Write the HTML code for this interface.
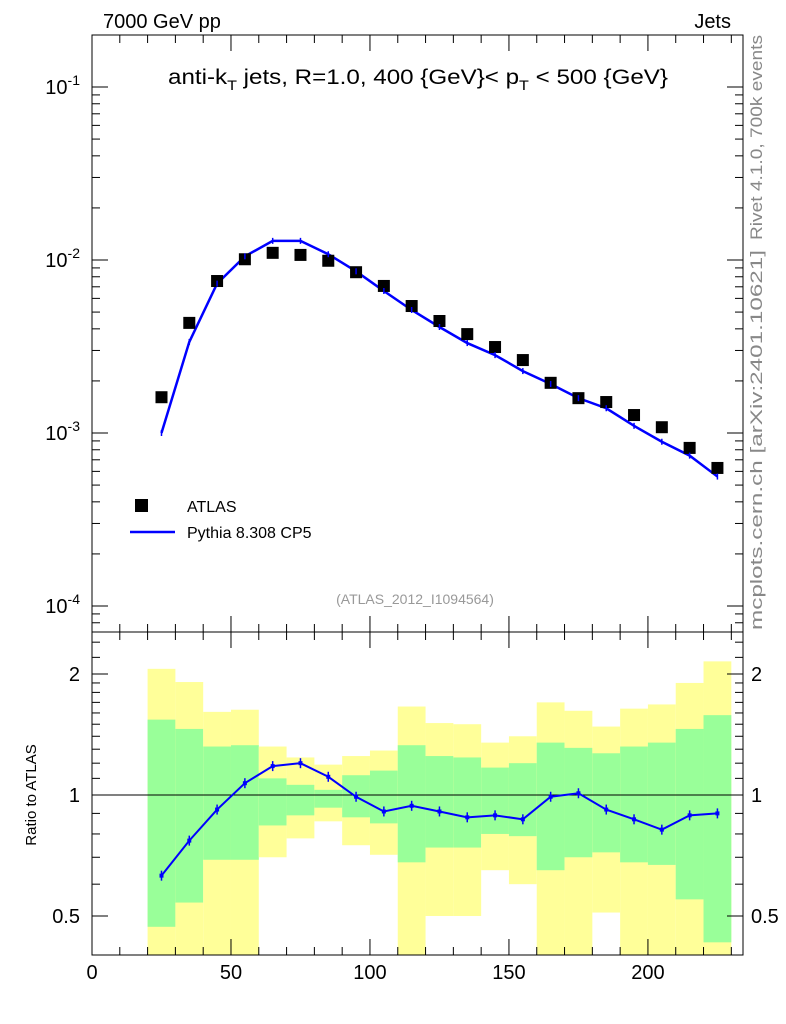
<!DOCTYPE html>
<html><head><meta charset="utf-8"><style>
body{margin:0;background:#fff;}
svg{display:block;font-family:"Liberation Sans",Arial,sans-serif;}
</style></head><body>
<svg id="c" width="786" height="1024" viewBox="0 0 786 1024" xmlns="http://www.w3.org/2000/svg">
<text x="103" y="28" font-size="20">7000 GeV pp</text>
<text x="731" y="28" font-size="20" text-anchor="end">Jets</text>
<text x="168" y="84" font-size="21" textLength="500" lengthAdjust="spacingAndGlyphs">anti-k<tspan font-size="14" dy="6">T</tspan><tspan dy="-6"> jets, R=1.0, 400 {GeV}&lt; p</tspan><tspan font-size="14" dy="6">T</tspan><tspan dy="-6"> &lt; 500 {GeV}</tspan></text>
<text x="415" y="604" font-size="14" fill="#999" text-anchor="middle">(ATLAS_2012_I1094564)</text>
<text transform="translate(762,240) rotate(-90)" font-size="17" fill="#888" textLength="205" lengthAdjust="spacingAndGlyphs">Rivet 4.1.0,  700k events</text>
<text transform="translate(762,630) rotate(-90)" font-size="17" fill="#888" textLength="380" lengthAdjust="spacingAndGlyphs">mcplots.cern.ch [arXiv:2401.10621]</text>
<text transform="translate(36,795) rotate(-90)" font-size="15" text-anchor="middle">Ratio to ATLAS</text>
<g id="bands"></g><g id="main"></g><g id="axes"></g>
<rect x="135" y="499" width="13" height="13" fill="#000"/>
<text x="187" y="512" font-size="16">ATLAS</text>
<line x1="130" y1="532" x2="175" y2="532" stroke="#00f" stroke-width="2.5"/>
<text x="187" y="538" font-size="16">Pythia 8.308 CP5</text>
</svg>
<script>
const xCenters=[25,35,45,55,65,75,85,95,105,115,125,135,145,155,165,175,185,195,205,215,225];
const atlasVals=[1.61e-3,4.33e-3,7.56e-3,1.01e-2,1.10e-2,1.07e-2,0.99e-2,8.5e-3,7.08e-3,5.42e-3,4.44e-3,3.73e-3,3.14e-3,2.64e-3,1.95e-3,1.59e-3,1.51e-3,1.27e-3,1.08e-3,8.2e-4,6.28e-4];
const pythiaVals=[1.0e-3,3.36e-3,7.3e-3,1.05e-2,1.29e-2,1.29e-2,1.08e-2,8.6e-3,6.62e-3,5.14e-3,4.10e-3,3.31e-3,2.82e-3,2.28e-3,1.92e-3,1.59e-3,1.39e-3,1.10e-3,8.9e-4,7.4e-4,5.6e-4];
const ratioVals=[0.63,0.77,0.92,1.07,1.18,1.20,1.11,0.99,0.91,0.94,0.91,0.88,0.89,0.87,0.99,1.01,0.92,0.87,0.82,0.89,0.90];
const yellowHi=[2.06,1.91,1.61,1.63,1.32,1.24,1.19,1.25,1.29,1.66,1.51,1.50,1.35,1.40,1.70,1.62,1.48,1.64,1.68,1.90,2.15];
const yellowLo=[0.3,0.3,0.3,0.3,0.70,0.78,0.86,0.75,0.71,0.3,0.50,0.50,0.65,0.60,0.3,0.3,0.51,0.3,0.3,0.3,0.3];
const greenHi=[1.54,1.46,1.32,1.33,1.10,1.06,1.03,1.12,1.15,1.33,1.25,1.24,1.17,1.20,1.35,1.31,1.27,1.32,1.35,1.46,1.58];
const greenLo=[0.47,0.54,0.69,0.69,0.84,0.89,0.93,0.88,0.85,0.68,0.74,0.74,0.80,0.79,0.65,0.70,0.72,0.68,0.67,0.55,0.43];
const xTicks=[0,50,100,150,200];
const NS='http://www.w3.org/2000/svg';
const L=92,R=743,T=35,M=632,B=955;
const X=v=>L+v*(R-L)/234.2;
const Y=v=>260-(Math.log10(v)+2)*173;
const RY=v=>795-Math.log2(v)*121;
function mk(p,tag,a){const e=document.createElementNS(NS,tag);for(const k in a)e.setAttribute(k,a[k]);p.appendChild(e);return e;}
const bands=document.getElementById('bands'),main=document.getElementById('main'),axes=document.getElementById('axes');
const cl=v=>Math.max(M,Math.min(B,v));
xCenters.forEach((c,i)=>{
 const x0=X(c-5),x1=X(c+5);
 let e=mk(bands,'rect',{x:x0,y:cl(RY(yellowHi[i])),width:x1-x0,height:cl(RY(yellowLo[i]))-cl(RY(yellowHi[i])),fill:'#ffff99'});
 
 
 e=mk(bands,'rect',{x:x0,y:cl(RY(greenHi[i])),width:x1-x0,height:cl(RY(greenLo[i]))-cl(RY(greenHi[i])),fill:'#99ff99'});
 
 
});
let e=mk(main,'line',{x1:L,x2:R,y1:RY(1),y2:RY(1),stroke:'#000','stroke-width':1});


e=mk(main,'polyline',{points:xCenters.map((c,i)=>X(c)+','+Y(pythiaVals[i])).join(' '),fill:'none',stroke:'#00f','stroke-width':2.5});


e=mk(main,'polyline',{points:xCenters.map((c,i)=>X(c)+','+RY(ratioVals[i])).join(' '),fill:'none',stroke:'#00f','stroke-width':2});


xCenters.forEach((c,i)=>{
 let r=mk(main,'rect',{x:X(c)-6,y:Y(atlasVals[i])-6,width:12,height:12,fill:'#000'});
 
 
 let m=mk(main,'line',{x1:X(c),x2:X(c),y1:Y(pythiaVals[i])-3,y2:Y(pythiaVals[i])+3,stroke:'#00f','stroke-width':1.5});
 
 
 let p=mk(main,'line',{x1:X(c)-2,x2:X(c)+2,y1:RY(ratioVals[i]),y2:RY(ratioVals[i]),stroke:'#00f','stroke-width':4});
 
 
 let q=mk(main,'line',{x1:X(c),x2:X(c),y1:RY(ratioVals[i])-5,y2:RY(ratioVals[i])+5,stroke:'#00f','stroke-width':1.5});
 
 
});
e=mk(axes,'rect',{x:L,y:T,width:R-L,height:M-T,fill:'none',stroke:'#000','stroke-width':1});


e=mk(axes,'rect',{x:L,y:M,width:R-L,height:B-M,fill:'none',stroke:'#000','stroke-width':1});


function tick(x1,y1,x2,y2){mk(axes,'line',{x1,y1,x2,y2,stroke:'#000','stroke-width':1});}
for(let v=0;v<=230;v+=10){const x=X(v),len=v%50==0?16:8;tick(x,B,x,B-len);tick(x,M,x,M-len);tick(x,M,x,M+len);tick(x,T,x,T+len);}
xTicks.forEach(v=>{const t=mk(axes,'text',{x:X(v),y:B+24,'font-size':20,'text-anchor':'middle'});t.textContent=v;
 
 });
[-1,-2,-3,-4].forEach(p=>{const y=Y(Math.pow(10,p));tick(L,y,L+16,y);tick(R,y,R-16,y);
 const t=mk(axes,'text',{x:L-12,y:y+7,'font-size':20,'text-anchor':'end'});t.innerHTML='10<tspan font-size="14" dy="-9">'+p+'</tspan>';
 
 
 for(let k=2;k<=9;k++){const yy=Y(k*Math.pow(10,p));if(yy>T&&yy<M){tick(L,yy,L+8,yy);tick(R,yy,R-8,yy);}}});
for(let k=2;k<=9;k++){const yy=Y(k*1e-5);if(yy>T&&yy<M){tick(L,yy,L+8,yy);tick(R,yy,R-8,yy);}}
[[2,'2'],[1,'1'],[0.5,'0.5']].forEach(([v,s])=>{const y=RY(v);tick(L,y,L+16,y);tick(R,y,R-16,y);
 let t=mk(axes,'text',{x:L-12,y:y+7,'font-size':20,'text-anchor':'end'});t.textContent=s;
 
 
 t=mk(axes,'text',{x:R+8,y:y+7,'font-size':20});t.textContent=s;
 
 });
[0.6,0.7,0.8,0.9,1.1,1.2,1.3,1.4,1.5,1.6,1.7,1.8,1.9,2.2,2.4].forEach(v=>{const y=RY(v);if(y>M&&y<B){tick(L,y,L+8,y);tick(R,y,R-8,y);}});
</script>
</body></html>
